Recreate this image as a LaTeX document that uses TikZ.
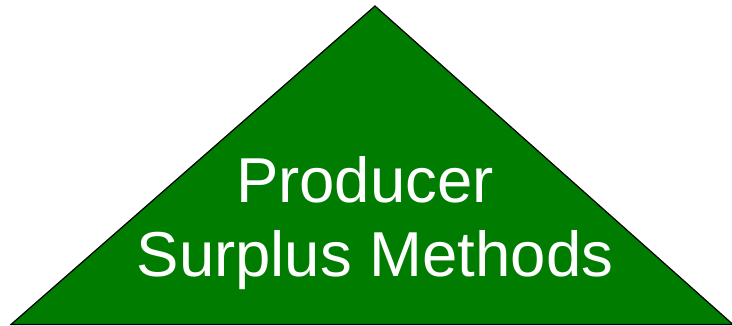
\documentclass[tikz,border=0pt]{standalone}
\usepackage{fontspec}
\setmainfont{Liberation Sans}
\definecolor{tri}{RGB}{0,125,0}
\begin{document}
\begin{tikzpicture}[x=1pt,y=-1pt,
  label text/.style={text=white,font=\fontsize{63.5}{74}\selectfont,inner sep=0pt,anchor=base}]
\useasboundingbox (0,0) rectangle (732,325);
\coordinate (apex) at (375,6);
\coordinate (bl) at (11,324.5);
\coordinate (br) at (733,324.5);
\filldraw[fill=tri,draw=black,line width=1.2pt,line join=miter] (apex) -- (br) -- (bl) -- cycle;
\node[label text] (l1) at (365,202) {Producer};
\node[label text] (l2) at (375,276) {Surplus Methods};
\end{tikzpicture}
\end{document}
